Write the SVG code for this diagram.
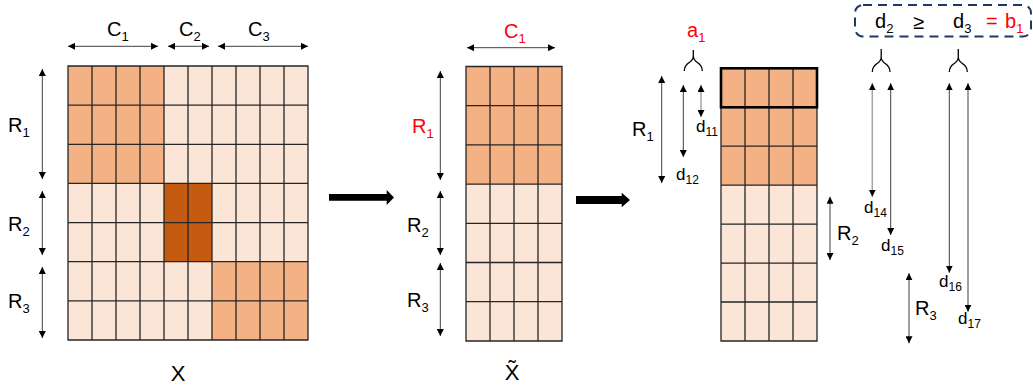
<svg xmlns="http://www.w3.org/2000/svg" width="1033" height="391" viewBox="0 0 1033 391">
<style>
text{font-family:"Liberation Sans",Arial,sans-serif;fill:#000}
.l18{font-size:20px}
.l16{font-size:17px}
.sub{font-size:13px}
.sub2{font-size:12px}
.red{fill:#FF0000}
.med{fill:#F4B183}
.lt{fill:#FBE5D6}
.dk{fill:#C55A11}
.grid{fill:none;stroke:#262626;stroke-width:1.3}
.dim{fill:none;stroke:#404040;stroke-width:1;marker-start:url(#ah);marker-end:url(#ah)}
.brace{fill:none;stroke:#000;stroke-width:1.3}
</style>
<defs>
<marker id="ah" viewBox="0 0 8 8" refX="8" refY="4" markerWidth="7" markerHeight="7" markerUnits="userSpaceOnUse" orient="auto-start-reverse">
<path d="M0,0 L8,4 L0,8 Z" fill="#000"/>
</marker>
</defs>

<g id="matrix-X">
<rect class="lt" x="68" y="66" width="240" height="274"/>
<rect class="med" x="68" y="66" width="96" height="117.4"/>
<rect class="dk" x="164" y="183.4" width="48" height="78.3"/>
<rect class="med" x="212" y="261.7" width="96" height="78.3"/>
<path class="grid" d="M68,66H308V340H68Z M92,66V340 M116,66V340 M140,66V340 M164,66V340 M188,66V340 M212,66V340 M236,66V340 M260,66V340 M284,66V340 M68,105.1H308 M68,144.3H308 M68,183.4H308 M68,222.6H308 M68,261.7H308 M68,300.9H308"/>
<text class="l18" x="107" y="36">C<tspan class="sub" dy="5">1</tspan></text>
<text class="l18" x="179" y="36">C<tspan class="sub" dy="5">2</tspan></text>
<text class="l18" x="248" y="36">C<tspan class="sub" dy="5">3</tspan></text>
<text class="l18" x="8" y="132">R<tspan class="sub" dy="5">1</tspan></text>
<text class="l18" x="8" y="231">R<tspan class="sub" dy="5">2</tspan></text>
<text class="l18" x="8" y="308">R<tspan class="sub" dy="5">3</tspan></text>
<text x="178" y="381" font-size="22" text-anchor="middle">X</text>
</g>

<g id="matrix-Xtilde">
<rect class="lt" x="466" y="66.5" width="96" height="274.5"/>
<rect class="med" x="466" y="66.5" width="96" height="117.6"/>
<path class="grid" d="M466,66.5H562V341H466Z M490,66.5V341 M514,66.5V341 M538,66.5V341 M466,105.7H562 M466,144.9H562 M466,184.1H562 M466,223.3H562 M466,262.5H562 M466,301.7H562"/>
<text class="l18 red" x="504" y="38">C<tspan class="sub" dy="5">1</tspan></text>
<text class="l18 red" x="412" y="133">R<tspan class="sub" dy="5">1</tspan></text>
<text class="l18" x="407" y="232">R<tspan class="sub" dy="5">2</tspan></text>
<text class="l18" x="407" y="307">R<tspan class="sub" dy="5">3</tspan></text>
<text x="512" y="380" font-size="22" text-anchor="middle">X̃</text>
</g>

<g id="matrix-right">
<rect class="lt" x="721" y="68.3" width="96" height="272.7"/>
<rect class="med" x="721" y="68.3" width="96" height="116.9"/>
<path class="grid" d="M721,68.3H817V341H721Z M745,68.3V341 M769,68.3V341 M793,68.3V341 M721,107.3H817 M721,146.2H817 M721,185.2H817 M721,224.1H817 M721,263.1H817 M721,302H817"/>
<rect x="721" y="68.3" width="96" height="39" fill="none" stroke="#000" stroke-width="2.6"/>
<text class="l18" x="632" y="136">R<tspan class="sub" dy="5">1</tspan></text>
<text class="l18" x="837" y="240">R<tspan class="sub" dy="5">2</tspan></text>
<text class="l18" x="915" y="315">R<tspan class="sub" dy="5">3</tspan></text>
<text class="l18 red" x="687" y="37">a<tspan class="sub" dy="5">1</tspan></text>
<text class="l16" x="696" y="132">d<tspan class="sub2" dy="4">11</tspan></text>
<text class="l16" x="676" y="180">d<tspan class="sub2" dy="4">12</tspan></text>
<text class="l16" x="864" y="213">d<tspan class="sub2" dy="4">14</tspan></text>
<text class="l16" x="881" y="251">d<tspan class="sub2" dy="4">15</tspan></text>
<text class="l16" x="939" y="287">d<tspan class="sub2" dy="4">16</tspan></text>
<text class="l16" x="958" y="324">d<tspan class="sub2" dy="4">17</tspan></text>
</g>

<g id="inequality-box">
<rect x="855" y="5" width="176" height="31.5" rx="8" fill="none" stroke="#1F3864" stroke-width="2" stroke-dasharray="9 6"/>
<text class="l18" x="875" y="28">d<tspan class="sub" dy="5">2</tspan></text>
<text class="l18" x="913" y="29">≥</text>
<text class="l18" x="953" y="28">d<tspan class="sub" dy="5">3</tspan></text>
<text class="l18 red" x="986" y="28">=<tspan x="1005">b</tspan><tspan class="sub" dy="5">1</tspan></text>
</g>

<g id="connectors">
<line class="dim" x1="68" y1="46.3" x2="158" y2="46.3"/>
<line class="dim" x1="168" y1="46.3" x2="209" y2="46.3"/>
<line class="dim" x1="218" y1="46.3" x2="308" y2="46.3"/>
<line class="dim" x1="42.3" y1="69" x2="42.3" y2="179"/>
<line class="dim" x1="42.3" y1="191" x2="42.3" y2="255"/>
<line class="dim" x1="42.3" y1="267" x2="42.3" y2="338"/>
<line class="dim" x1="467" y1="47.7" x2="555" y2="47.7"/>
<line class="dim" x1="440.3" y1="71" x2="440.3" y2="180"/>
<line class="dim" x1="440.3" y1="191" x2="440.3" y2="255"/>
<line class="dim" x1="440.3" y1="263" x2="440.3" y2="336"/>
<line class="dim" x1="661.7" y1="76" x2="661.7" y2="183"/>
<line class="dim" x1="683.3" y1="85" x2="683.3" y2="157"/>
<line class="dim" x1="701" y1="85" x2="701" y2="117" style="stroke:#a6a6a6;stroke-width:1.5"/>
<line class="dim" x1="830" y1="196.7" x2="830" y2="260"/>
<line class="dim" x1="909" y1="273.3" x2="909" y2="343.3"/>
<line class="dim" x1="872.3" y1="83.3" x2="872.3" y2="196.7" style="stroke:#a6a6a6;stroke-width:1.5"/>
<line class="dim" x1="890.7" y1="83.3" x2="890.7" y2="235"/>
<line class="dim" x1="949.3" y1="83.3" x2="949.3" y2="272.7"/>
<line class="dim" x1="968" y1="83.3" x2="968" y2="311.7"/>
<path class="brace" d="M684.3,71 C684.3,61 693.3,64 693.3,56 L693.3,50 M702.3,71 C702.3,61 693.3,64 693.3,56"/>
<path class="brace" d="M872.3,72 C872.3,62 881.2,65 881.2,57 L881.2,49 M890,72 C890,62 881.2,65 881.2,57"/>
<path class="brace" d="M949.3,72 C949.3,62 958.3,65 958.3,57 L958.3,49 M967.3,72 C967.3,62 958.3,65 958.3,57"/>
<path d="M329,194 H386.7 V190 L394,197.4 L386.7,205 V200.7 H329 Z" fill="#000"/>
<path d="M576,196 H621.7 V192.7 L630,200 L621.7,207.3 V204 H576 Z" fill="#000"/>
</g>
</svg>
